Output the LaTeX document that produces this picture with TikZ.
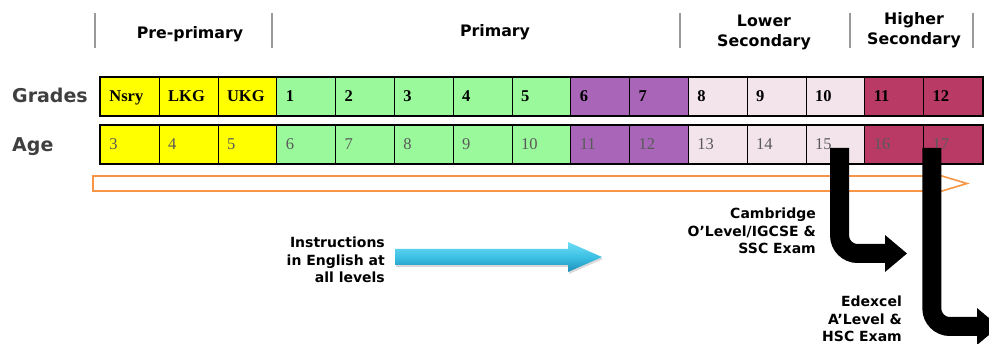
\documentclass[tikz,border=0pt]{standalone}
\usepackage{fontspec}
\setmainfont{Liberation Serif}
\newfontfamily\sansbold{DejaVu Sans}
\usetikzlibrary{shadows,calc}

\definecolor{cyel}{HTML}{FFFF00}
\definecolor{cgrn}{HTML}{99F99B}
\definecolor{cpur}{HTML}{A966B8}
\definecolor{cpnk}{HTML}{F2E4EA}
\definecolor{cmar}{HTML}{B93A64}
\definecolor{corange}{HTML}{F79646}
\definecolor{labgray}{HTML}{3F3F3F}
\definecolor{agegray}{HTML}{5A5A5A}
\definecolor{sepgray}{HTML}{9A9A9A}
\definecolor{bluetop}{HTML}{6FDDF5}
\definecolor{bluemid}{HTML}{3CC0E4}
\definecolor{bluebot}{HTML}{1E8FB8}

\tikzset{
  cellbox/.style={draw=black, line width=0.8pt, anchor=north west,
    minimum height=38pt, text width=40.8pt, inner xsep=9pt, inner ysep=0pt,
    align=left},
  gradecell/.style={cellbox, font=\fontsize{16.5}{18}\selectfont\bfseries, text depth=1pt},
  agecell/.style={cellbox, font=\fontsize{16.5}{18}\selectfont, text=agegray},
  rowframe/.style={draw=black, line width=2.2pt},
  rowlabel/.style={font=\sansbold\bfseries\fontsize{19}{22}\selectfont, text=labgray, anchor=west, inner sep=0pt},
  stagehead/.style={font=\sansbold\bfseries\fontsize{15.8}{20}\selectfont, align=center, inner sep=0pt},
  stagesep/.style={draw=sepgray, line width=1.2pt},
  note/.style={font=\sansbold\bfseries\fontsize{14}{17.5}\selectfont, align=right, anchor=east, inner sep=0pt},
  bentarrow/.style={draw=black, line width=19pt, rounded corners=18pt},
}

\begin{document}
\begin{tikzpicture}[x=1pt,y=-1pt]
\useasboundingbox (0,0) rectangle (989,344);

% stage headings and separators
\foreach \sx/\nm in {95/s0,272/s1,680/s2,850/s3,973/s4}
  \draw[stagesep] (\sx,13) coordinate (\nm t) -- (\sx,48) coordinate (\nm b);
\node[stagehead] (hpre)  at (190,34) {Pre-primary};
\node[stagehead] (hpri)  at (495,32) {Primary};
\node[stagehead] (hlow)  at (764,32) {Lower\\Secondary};
\node[stagehead] (hhigh) at (914,30) {Higher\\Secondary};

% row labels
\node[rowlabel] (lgrades) at (12,95) {Grades};
\node[rowlabel] (lage)    at (12,147) {Age};

% grade and age cells
\foreach \i/\g/\a/\c in {0/Nsry/3/cyel,1/LKG/4/cyel,2/UKG/5/cyel,
    3/1/6/cgrn,4/2/7/cgrn,5/3/8/cgrn,6/4/9/cgrn,7/5/10/cgrn,
    8/6/11/cpur,9/7/12/cpur,10/8/13/cpnk,11/9/14/cpnk,12/10/15/cpnk,
    13/11/16/cmar,14/12/17/cmar}{
  \node[gradecell, fill=\c] (g\i) at (100+58.8*\i,77) {\g};
  \node[agecell, fill=\c] (a\i) at (100+58.8*\i,125) {\a};
}
\draw[rowframe] (g0.north west) rectangle (g14.south east);
\draw[rowframe] (a0.north west) rectangle (a14.south east);

% long outlined arrow under the rows
\draw[corange, line width=1.6pt, fill=white]
  (93,176) coordinate (ot) -- (942,176) -- (967,183.5) coordinate (otip)
  -- (942,191) -- (93,191) -- cycle;

% bent exam arrows
\coordinate (ex1s) at ($(a12.north west)!0.57!(a12.north east)+(0,23)$);
\coordinate (ex1e) at (886,253.5);
\draw[bentarrow] (ex1s) |- (ex1e);
\fill[black] (885,235) -- (907,253.5) -- (885,272) -- cycle;

\coordinate (ex2s) at ($(a14.north west)!0.145!(a14.north east)+(0,23)$);
\coordinate (ex2e) at (978,326.5);
\draw[bentarrow] (ex2s) |- (ex2e);
\fill[black] (977,308) -- (999,326.5) -- (977,345) -- cycle;

% medium-of-instruction arrow
\path[drop shadow={opacity=0.3, shadow xshift=1pt, shadow yshift=-2pt},
      top color=bluetop, bottom color=bluebot, middle color=bluemid]
  (395,249) coordinate (bl) -- (568,249) -- (568,242) -- (602,257) coordinate (btip)
  -- (568,272) -- (568,265) -- (395,265) -- cycle;

% notes
\node[note] (ninstr) at (385,260) {Instructions\\in English at\\all levels};
\node[note] (ncam)   at (816,231) {Cambridge\\O’Level/IGCSE \&\\SSC Exam};
\node[note] (nedx)   at (902,319) {Edexcel\\A’Level \&\\HSC Exam};
\end{tikzpicture}
\end{document}
